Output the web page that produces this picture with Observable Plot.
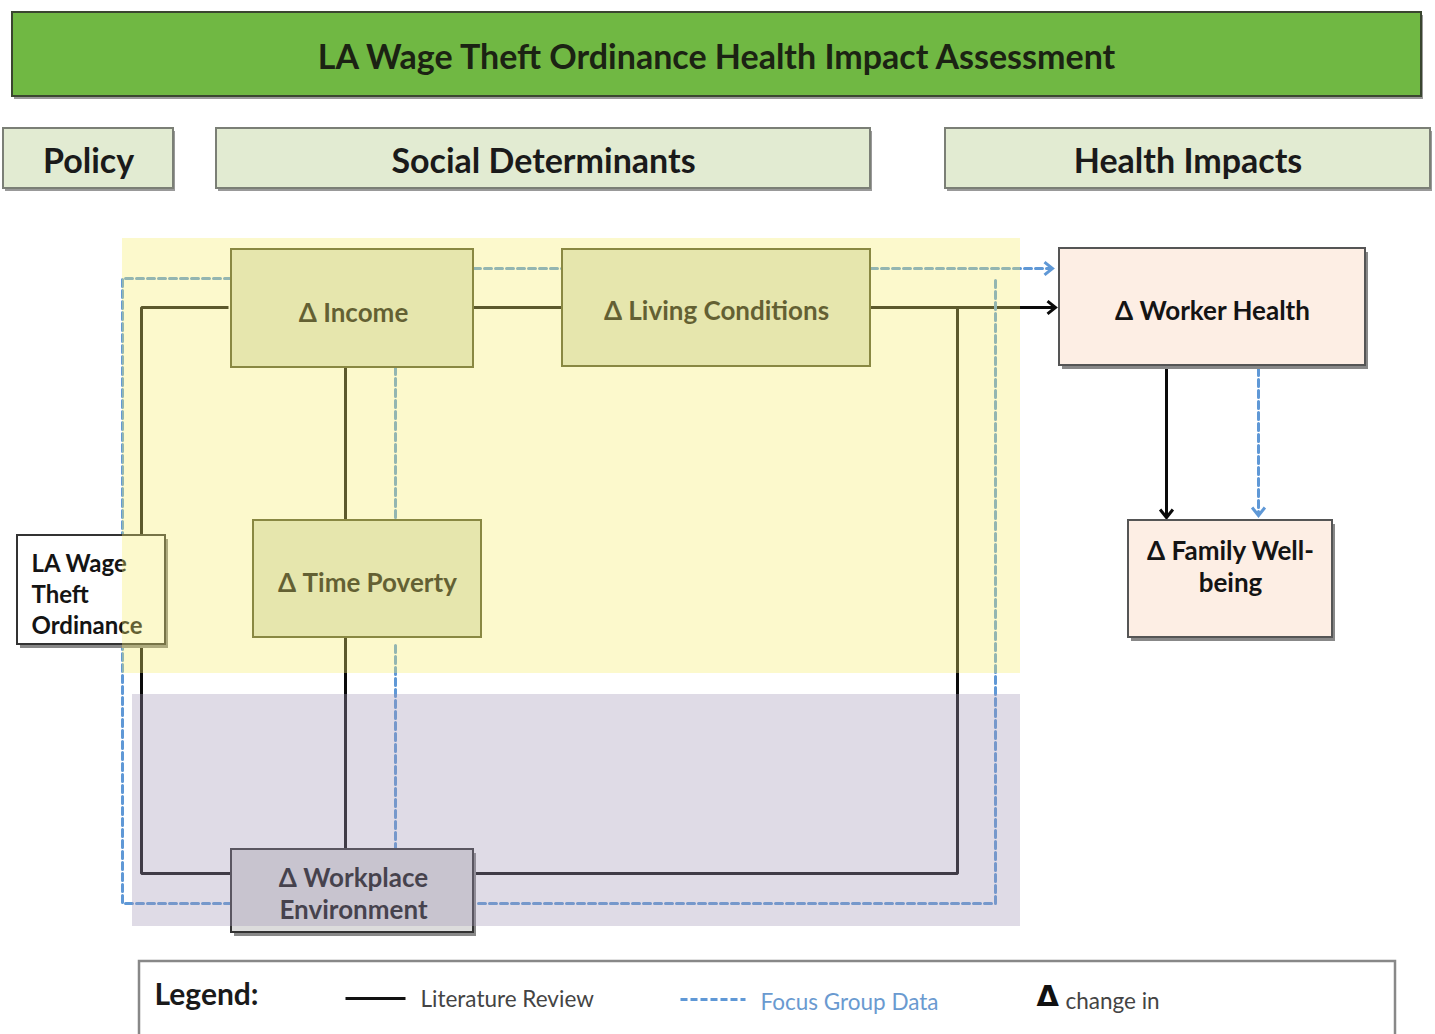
<!DOCTYPE html>
<html><head><meta charset="utf-8">
<script src="https://cdn.jsdelivr.net/npm/d3@7"></script>
<script src="https://cdn.jsdelivr.net/npm/@observablehq/plot@0.6"></script>
<style>body{margin:0;background:#fff;} svg{display:block;}</style>
</head><body><div id="chart"></div>
<script>
// ---------- diagram content (coordinates in the 1435×1034 diagram space) ----------
const titleText = "LA Wage Theft Ordinance Health Impact Assessment";
const titleBox = [{x1: 12, x2: 1421, y1: 12, y2: 96}];

const headerLabels = ["Policy", "Social Determinants", "Health Impacts"];
const headerX1 = [3, 216, 945];
const headerX2 = [173, 870, 1430];
const headerY1 = 128, headerY2 = 188;

const regionNames = ["Social determinants (living)", "Workplace"];
const regionX1 = [122, 132];
const regionX2 = [1020, 1020];
const regionY1 = [238, 694];
const regionY2 = [673, 926];

const nodeLabels = ["Δ Income", "Δ Living Conditions", "Δ Time Poverty", "Δ Workplace\nEnvironment", "Δ Worker Health", "Δ Family Well-\nbeing", "LA Wage\nTheft\nOrdinance"];
const nodeKind   = ["social", "social", "social", "workplace", "health", "health", "policy"];
const nodeX1 = [231, 562, 253, 231, 1059, 1128, 17];
const nodeX2 = [473, 870, 481, 473, 1365, 1332, 165];
const nodeY1 = [249, 249, 520, 849, 248, 520, 535];
const nodeY2 = [367, 366, 637, 932, 365, 637, 644];
const labelX = [353, 716, 367, 353, 1212, 1230, 31];
const labelY = [311, 309, 581, 892, 309, 565, 593];

// connections: polylines
const literaturePaths = [
  [[228, 307], [141, 307], [141, 873], [231, 873]],
  [[473, 307], [562, 307]],
  [[870, 307], [1054, 307]],
  [[957, 307], [957, 873], [473, 873]],
  [[345, 367], [345, 520]],
  [[345, 637], [345, 849]],
  [[1166, 368], [1166, 516]]
];
const focusPaths = [
  [[231, 278], [122, 278], [122, 903], [231, 903]],
  [[473, 268], [562, 268]],
  [[870, 268], [1051, 268]],
  [[995, 280], [995, 903], [473, 903]],
  [[395, 367], [395, 520]],
  [[395, 645], [395, 849]],
  [[1258, 368], [1258, 514]]
];
// arrow tips: [x, y, direction in degrees]
const literatureTips = [[1055, 307, 0], [1166, 517, 90]];
const focusTips = [[1052, 268, 0], [1258, 515, 90]];

const legendTitle = "Legend:";
const legendItems = ["Literature Review", "Focus Group Data"];
const legendDeltaSymbol = "Δ";
const legendDeltaText = "change in";

// ---------- build tables ----------
const headers = headerLabels.map((label, i) => ({label, x1: headerX1[i], x2: headerX2[i], y1: headerY1, y2: headerY2}));
const regions = regionNames.map((name, i) => ({name, x1: regionX1[i], x2: regionX2[i], y1: regionY1[i], y2: regionY2[i]}));
const nodes = nodeLabels.map((label, i) => ({label, kind: nodeKind[i], x1: nodeX1[i], x2: nodeX2[i], y1: nodeY1[i], y2: nodeY2[i], lx: labelX[i], ly: labelY[i]}));
const toPoints = paths => paths.flatMap((p, k) => p.map(([x, y]) => ({k, x, y})));
const litPts = toPoints(literaturePaths);
const focPts = toPoints(focusPaths);
const tips = (arr) => arr.map(([x, y, a]) => ({x, y, a}));

const FONT = "Lato, 'Open Sans', sans-serif";
const fills = {social: "#dde2d0", workplace: "#dcdcdc", health: "#fdeee4", policy: "#ffffff"};
const strokes = {social: "#4f522c", workplace: "#333333", health: "#555555", policy: "#333333"};
const BLUE = "#5f98d6";

const chevron = {
  draw(context, size) {
    const r = Math.sqrt(size / Math.PI);
    context.moveTo(-r, -r * 0.8);
    context.lineTo(0, 0);
    context.lineTo(-r, r * 0.8);
  }
};

const shadowNodes = nodes.filter(d => d.kind === "health" || d.kind === "policy" || d.kind === "workplace");

const legendBox = [{x1: 139, x2: 1395, y1: 961, y2: 1045}];
const legendLit = [{x1: 345, x2: 405, y: 998}];
const legendFoc = [{x1: 680, x2: 745, y: 999}];

const plot = Plot.plot({
  width: 1435, height: 1034, margin: 0,
  x: {domain: [0, 1435], range: [0, 1435], axis: null},
  y: {domain: [0, 1034], range: [0, 1034], axis: null},
  style: {background: "#ffffff"},
  marks: [
    // title
    Plot.rect(titleBox, {x1: "x1", x2: "x2", y1: "y1", y2: "y2", fill: "#999", dx: 2, dy: 3, ariaLabel: "shadow"}),
    Plot.rect(titleBox, {x1: "x1", x2: "x2", y1: "y1", y2: "y2", fill: "#70b843", stroke: "#3a4630", strokeWidth: 2}),
    Plot.text([titleText], {x: 716, y: 58, text: d => d, fontSize: 34, fontWeight: 700, fill: "#1b2313", fontFamily: FONT}),
    // headers
    Plot.rect(headers, {x1: "x1", x2: "x2", y1: "y1", y2: "y2", fill: "#999", dx: 2, dy: 3, ariaLabel: "shadow"}),
    Plot.rect(headers, {x1: "x1", x2: "x2", y1: "y1", y2: "y2", fill: "#e2ebd2", stroke: "#7b7f76", strokeWidth: 2}),
    Plot.text(headers, {x: d => (d.x1 + d.x2) / 2, y: 162, text: "label", fontSize: 34, fontWeight: 700, fill: "#1a1a1a", fontFamily: FONT}),
    // connections
    Plot.line(litPts, {x: "x", y: "y", z: "k", stroke: "#0a0a0a", strokeWidth: 3, strokeLinejoin: "miter", strokeLinecap: "butt"}),
    Plot.line(focPts, {x: "x", y: "y", z: "k", stroke: BLUE, strokeWidth: 3, strokeDasharray: "7,4", strokeLinejoin: "miter"}),
    Plot.dot(tips(literatureTips), {x: "x", y: "y", rotate: "a", symbol: chevron, r: 8, stroke: "#0a0a0a", strokeWidth: 3, fill: "none"}),
    Plot.dot(tips(focusTips), {x: "x", y: "y", rotate: "a", symbol: chevron, r: 8, stroke: BLUE, strokeWidth: 3, fill: "none"}),
    // nodes
    Plot.rect(shadowNodes, {x1: "x1", x2: "x2", y1: "y1", y2: "y2", fill: "#888", dx: 3, dy: 4, ariaLabel: "shadow"}),
    Plot.rect(nodes, {x1: "x1", x2: "x2", y1: "y1", y2: "y2", fill: d => fills[d.kind], stroke: d => strokes[d.kind], strokeWidth: 2}),
    Plot.text(nodes.filter(d => d.kind !== "policy"), {x: "lx", y: "ly", text: "label", fontSize: 26, fontWeight: 700, lineHeight: 1.23, fill: "#141414", fontFamily: FONT}),
    Plot.text(nodes.filter(d => d.kind === "policy"), {x: "lx", y: "ly", text: "label", textAnchor: "start", fontSize: 24, fontWeight: 700, lineHeight: 1.29, fill: "#141414", fontFamily: FONT}),
    // translucent region overlays
    Plot.rect(regions.slice(0, 1), {x1: "x1", x2: "x2", y1: "y1", y2: "y2", fill: "#f6ee6d", fillOpacity: 0.35}),
    Plot.rect(regions.slice(1), {x1: "x1", x2: "x2", y1: "y1", y2: "y2", fill: "#a498b8", fillOpacity: 0.35}),
    // legend
    Plot.rect(legendBox, {x1: "x1", x2: "x2", y1: "y1", y2: "y2", fill: "#ffffff", stroke: "#888", strokeWidth: 2.5}),
    Plot.text([legendTitle], {x: 154, y: 995, text: d => d, textAnchor: "start", fontSize: 30, fontWeight: 700, fill: "#1a1a1a", fontFamily: FONT}),
    Plot.link(legendLit, {x1: "x1", x2: "x2", y1: "y", y2: "y", stroke: "#111", strokeWidth: 3}),
    Plot.text([legendItems[0]], {x: 420, y: 999, text: d => d, textAnchor: "start", fontSize: 22.5, fill: "#444", fontFamily: FONT}),
    Plot.link(legendFoc, {x1: "x1", x2: "x2", y1: "y", y2: "y", stroke: BLUE, strokeWidth: 3, strokeDasharray: "7,3"}),
    Plot.text([legendItems[1]], {x: 760, y: 1002, text: d => d, textAnchor: "start", fontSize: 22.5, fill: "#6a9ad0", fontFamily: FONT}),
    Plot.text([legendDeltaSymbol], {x: 1036, y: 996, text: d => d, textAnchor: "start", fontSize: 29, fontWeight: 900, fill: "#111", fontFamily: "'DejaVu Sans', sans-serif"}),
    Plot.text([legendDeltaText], {x: 1065, y: 1001, text: d => d, textAnchor: "start", fontSize: 22.5, fill: "#444", fontFamily: FONT})
  ]
});

// soft drop shadows
const svg = d3.select(plot);
const defs = svg.insert("defs", ":first-child");
defs.append("filter").attr("id", "soft").attr("x", "-10%").attr("y", "-10%").attr("width", "120%").attr("height", "130%")
  .append("feGaussianBlur").attr("stdDeviation", 2.5);
svg.selectAll("g[aria-label=shadow]").attr("filter", "url(#soft)").attr("opacity", 0.55);

document.getElementById("chart").appendChild(plot);
</script>
</body></html>
